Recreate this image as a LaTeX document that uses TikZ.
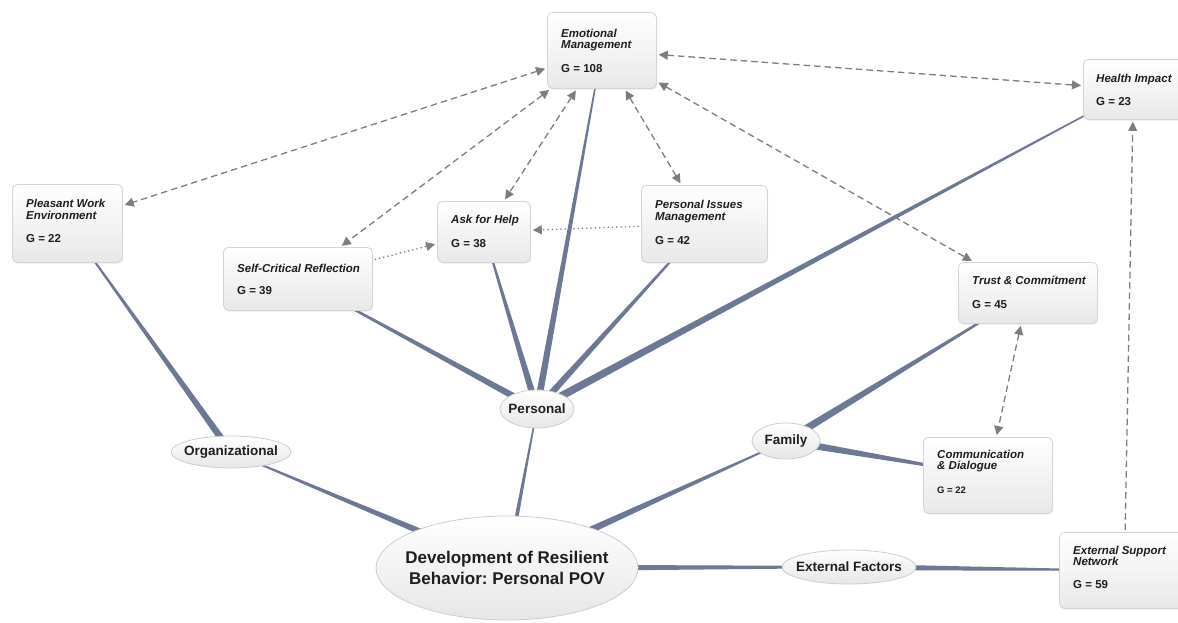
\documentclass[tikz,border=0pt]{standalone}
\usepackage{fontspec}
\setmainfont{Liberation Sans}
\usetikzlibrary{calc,shapes.geometric,arrows.meta,shadows}
\definecolor{edgecol}{RGB}{108,120,148}
\definecolor{boxline}{RGB}{212,212,212}
\definecolor{boxbot}{RGB}{232,232,232}
\definecolor{ovline}{RGB}{205,205,205}
\definecolor{ovbot}{RGB}{230,230,230}
\definecolor{arrowgray}{RGB}{125,125,125}
\definecolor{txt}{RGB}{30,30,30}
\pgfdeclarelayer{bg}
\pgfdeclarelayer{edges}
\pgfsetlayers{bg,edges,main}
\newcommand\tapered[4]{\fill[edgecol] ($(#1)!#2!90:(#3)$) -- ($(#1)!#2!-90:(#3)$) -- ($(#3)!#4!90:(#1)$) -- ($(#3)!#4!-90:(#1)$) -- cycle;}
\tikzset{
 box/.style={draw=boxline, line width=0.8pt, rounded corners=5pt, top color=white, bottom color=boxbot,
   drop shadow={opacity=0.15, shadow xshift=0.8pt, shadow yshift=-1.2pt},
   anchor=north west, inner sep=0pt},
 ttl/.style={anchor=base west, inner sep=0pt, font=\fontsize{11.5}{12}\selectfont\bfseries\itshape, text=txt},
 gval/.style={anchor=base west, inner sep=0pt, font=\fontsize{11.5}{12}\selectfont\bfseries, text=txt},
 oval/.style={ellipse, draw=ovline, line width=0.8pt, top color=white, bottom color=ovbot, inner sep=0pt},
 ovtext/.style={inner sep=0pt, align=center, font=\fontsize{13.5}{15}\selectfont\bfseries, text=txt},
 dasharrow/.style={draw=arrowgray, line width=1.3pt, dash pattern=on 6.5pt off 4pt,
   {Triangle[length=9pt,width=9pt]}-{Triangle[length=9pt,width=9pt]}, shorten <=2pt, shorten >=2pt},
 onearrow/.style={draw=arrowgray, line width=1.3pt, dash pattern=on 6.5pt off 4pt,
   -{Triangle[length=9pt,width=9pt]}, shorten <=2pt, shorten >=2pt},
 dotarrow/.style={draw=arrowgray, line width=1.3pt, dash pattern=on 1.3pt off 3pt,
   -{Triangle[length=9pt,width=9pt]}, shorten <=2pt, shorten >=2pt}
}
\begin{document}
\frenchspacing
\begin{tikzpicture}[x=1pt,y=-1pt]
\begin{pgfonlayer}{bg}
\fill[white] (0,0) rectangle (1178,622);
\end{pgfonlayer}
\useasboundingbox (0,0) rectangle (1178,622);
\clip (0,0) rectangle (1178,622);

% boxes
\node[box, minimum width=109pt, minimum height=76pt] (em) at (547,12) {};
\node[ttl] (em1) at (561,37) {Emotional};
\node[ttl] (em2) at (561,48) {Management};
\node[gval] (emg) at (561,72) {G = 108};

\node[box, minimum width=100pt, minimum height=60pt] (hi) at (1083,59) {};
\node[ttl] (hi1) at (1096,82) {Health Impact};
\node[gval] (hig) at (1096,105) {G = 23};

\node[box, minimum width=110pt, minimum height=78pt] (pwe) at (12,184) {};
\node[ttl] (pwe1) at (26,207) {Pleasant Work};
\node[ttl] (pwe2) at (26,219) {Environment};
\node[gval] (pweg) at (26,242) {G = 22};

\node[box, minimum width=149pt, minimum height=63pt] (scr) at (223,247) {};
\node[ttl] (scr1) at (237,272) {Self-Critical Reflection};
\node[gval] (scrg) at (237,294) {G = 39};

\node[box, minimum width=93pt, minimum height=61pt] (afh) at (437,201) {};
\node[ttl] (afh1) at (451,223) {Ask for Help};
\node[gval] (afhg) at (451,247) {G = 38};

\node[box, minimum width=126pt, minimum height=77pt] (pim) at (641,185) {};
\node[ttl] (pim1) at (655,208) {Personal Issues};
\node[ttl] (pim2) at (655,220) {Management};
\node[gval] (pimg) at (655,244) {G = 42};

\node[box, minimum width=139pt, minimum height=61pt] (tc) at (958,262) {};
\node[ttl] (tc1) at (972,284) {Trust \& Commitment};
\node[gval] (tcg) at (972,308) {G = 45};

\node[box, minimum width=129pt, minimum height=76pt] (cd) at (923,437) {};
\node[ttl] (cd1) at (937,458) {Communication};
\node[ttl] (cd2) at (937,469) {\& Dialogue};
\node[gval, font=\fontsize{9.5}{11}\selectfont\bfseries] (cdg) at (937,493) {G = 22};

\node[box, minimum width=130pt, minimum height=76pt] (esn) at (1059,532) {};
\node[ttl] (esn1) at (1073,554) {External Support};
\node[ttl] (esn2) at (1073,565) {Network};
\node[gval] (esng) at (1073,588) {G = 59};

% ellipses
\node[oval, minimum width=262pt, minimum height=104pt] (dev) at (507,568) {};
\node[ovtext, font=\fontsize{17}{21}\selectfont\bfseries] (devt) at (dev.center) {Development of Resilient\\Behavior: Personal POV};
\node[oval, minimum width=120pt, minimum height=32pt] (org) at (231,452) {};
\node[ovtext] (orgt) at (org.center) {Organizational};
\node[oval, minimum width=74pt, minimum height=38pt] (per) at (537,409) {};
\node[ovtext] (pert) at (per.center) {Personal};
\node[oval, minimum width=68pt, minimum height=36pt] (fam) at (786,441) {};
\node[ovtext] (famt) at (fam.center) {Family};
\node[oval, minimum width=134pt, minimum height=34pt] (ef) at (849,567) {};
\node[ovtext] (eft) at (ef.center) {External Factors};

% connectors
\begin{pgfonlayer}{edges}
\tapered{org}{3.5pt}{pwe}{0.5pt}
\tapered{dev}{4pt}{org}{0.6pt}
\tapered{dev}{2.5pt}{per}{0.6pt}
\tapered{dev}{4.5pt}{fam}{0.6pt}
\tapered{dev}{3.5pt}{ef}{1pt}
\tapered{ef}{3.2pt}{esn}{0.5pt}
\tapered{per}{3.5pt}{scr}{0.5pt}
\tapered{per}{3.5pt}{afh}{0.6pt}
\tapered{per}{3.5pt}{em}{0.5pt}
\tapered{per}{3.5pt}{pim}{0.5pt}
\tapered{per}{4pt}{hi}{0.5pt}
\tapered{fam}{4pt}{tc}{0.5pt}
\tapered{fam}{4pt}{cd}{0.5pt}
\end{pgfonlayer}

\draw[dasharrow] (em) -- (pwe);
\draw[dasharrow] (em) -- (scr);
\draw[dasharrow] (em) -- (afh);
\draw[dasharrow] (em) -- (pim);
\draw[dasharrow] (em) -- (tc);
\draw[dasharrow] (em) -- (hi);
\draw[dasharrow] (tc) -- (cd);
\draw[onearrow] (esn) -- (hi);
\draw[dotarrow] (scr) -- (afh);
\draw[dotarrow] (pim) -- (afh);
\end{tikzpicture}
\end{document}
